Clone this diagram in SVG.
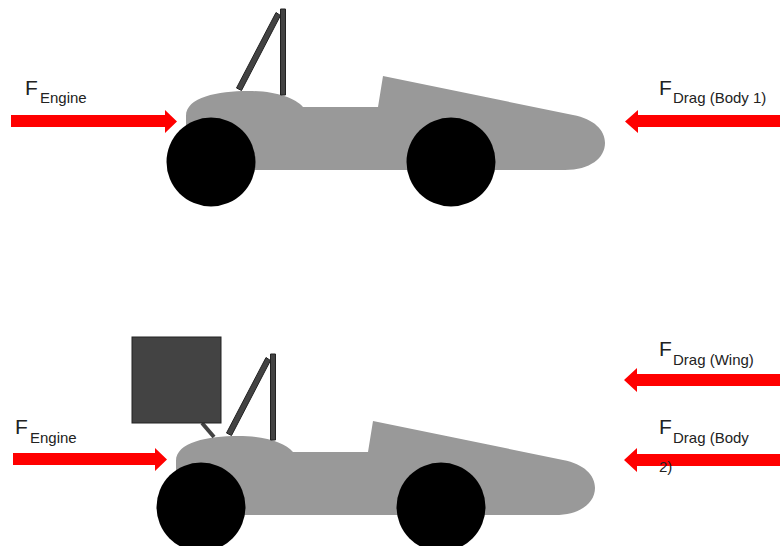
<svg xmlns="http://www.w3.org/2000/svg" xmlns:xlink="http://www.w3.org/1999/xlink" width="780" height="546" viewBox="0 0 780 546">
  <style>
    .body { fill: #999999; }
    .wheel { fill: #000000; }
    .bar { fill: #434343; stroke: #222222; stroke-width: 1; }
    .force { fill: #ff0000; }
    .lbl { font-family: "Liberation Sans", Arial, sans-serif; fill: #222222; }
    .big { font-size: 21px; }
    .sub { font-size: 15px; }
  </style>
  <defs>
    <!-- side view of the car, drawn at the upper position -->
    <g id="car">
      <path class="body" d="M 186,170 L 186,116 C 186,97 218,91 248,91 C 276,91 295,98 303,107 L 378,107 L 383,76 L 573,115 C 594,119 605,130 605,143 C 605,158 590,170 565,170 Z"/>
      <polygon class="bar" points="280.5,9 285.5,9 285.5,95 280.5,95"/>
      <polygon class="bar" points="276,12.5 280.5,15.5 241.5,90.5 236.5,88"/>
      <circle class="wheel" cx="211" cy="162" r="44.5"/>
      <circle class="wheel" cx="451" cy="162" r="44.5"/>
    </g>
  </defs>

  <g id="car-body-only">
    <use xlink:href="#car"/>
  </g>

  <g id="car-with-wing">
    <use xlink:href="#car" transform="translate(-10,345)"/>
    <line x1="202" y1="423" x2="214" y2="437" stroke="#434343" stroke-width="4"/>
    <rect class="bar" x="132" y="337" width="89" height="86"/>
  </g>

  <g id="forces">
    <polygon class="force" points="11,115 165,115 165,110 177,121.5 165,133 165,127 11,127"/>
    <polygon class="force" points="780,115 638,115 638,110 625,121.5 638,133 638,127 780,127"/>
    <polygon class="force" points="13,453 155,453 155,448 167,459.5 155,471 155,465 13,465"/>
    <polygon class="force" points="780,374 637,374 637,368 624,380 637,392 637,386 780,386"/>
    <polygon class="force" points="780,454 637,454 637,448 624,460 637,472 637,466 780,466"/>
  </g>

  <g id="labels">
    <text class="lbl big" x="25" y="95">F</text>
    <text class="lbl sub" x="40" y="103">Engine</text>
    <text class="lbl big" x="659" y="95">F</text>
    <text class="lbl sub" x="673" y="103">Drag (Body 1)</text>
    <text class="lbl big" x="15" y="434">F</text>
    <text class="lbl sub" x="30" y="443">Engine</text>
    <text class="lbl big" x="659" y="356">F</text>
    <text class="lbl sub" x="673" y="365">Drag (Wing)</text>
    <text class="lbl big" x="659" y="434">F</text>
    <text class="lbl sub" x="673" y="443">Drag (Body</text>
    <text class="lbl sub" x="659" y="472">2)</text>
  </g>
</svg>
